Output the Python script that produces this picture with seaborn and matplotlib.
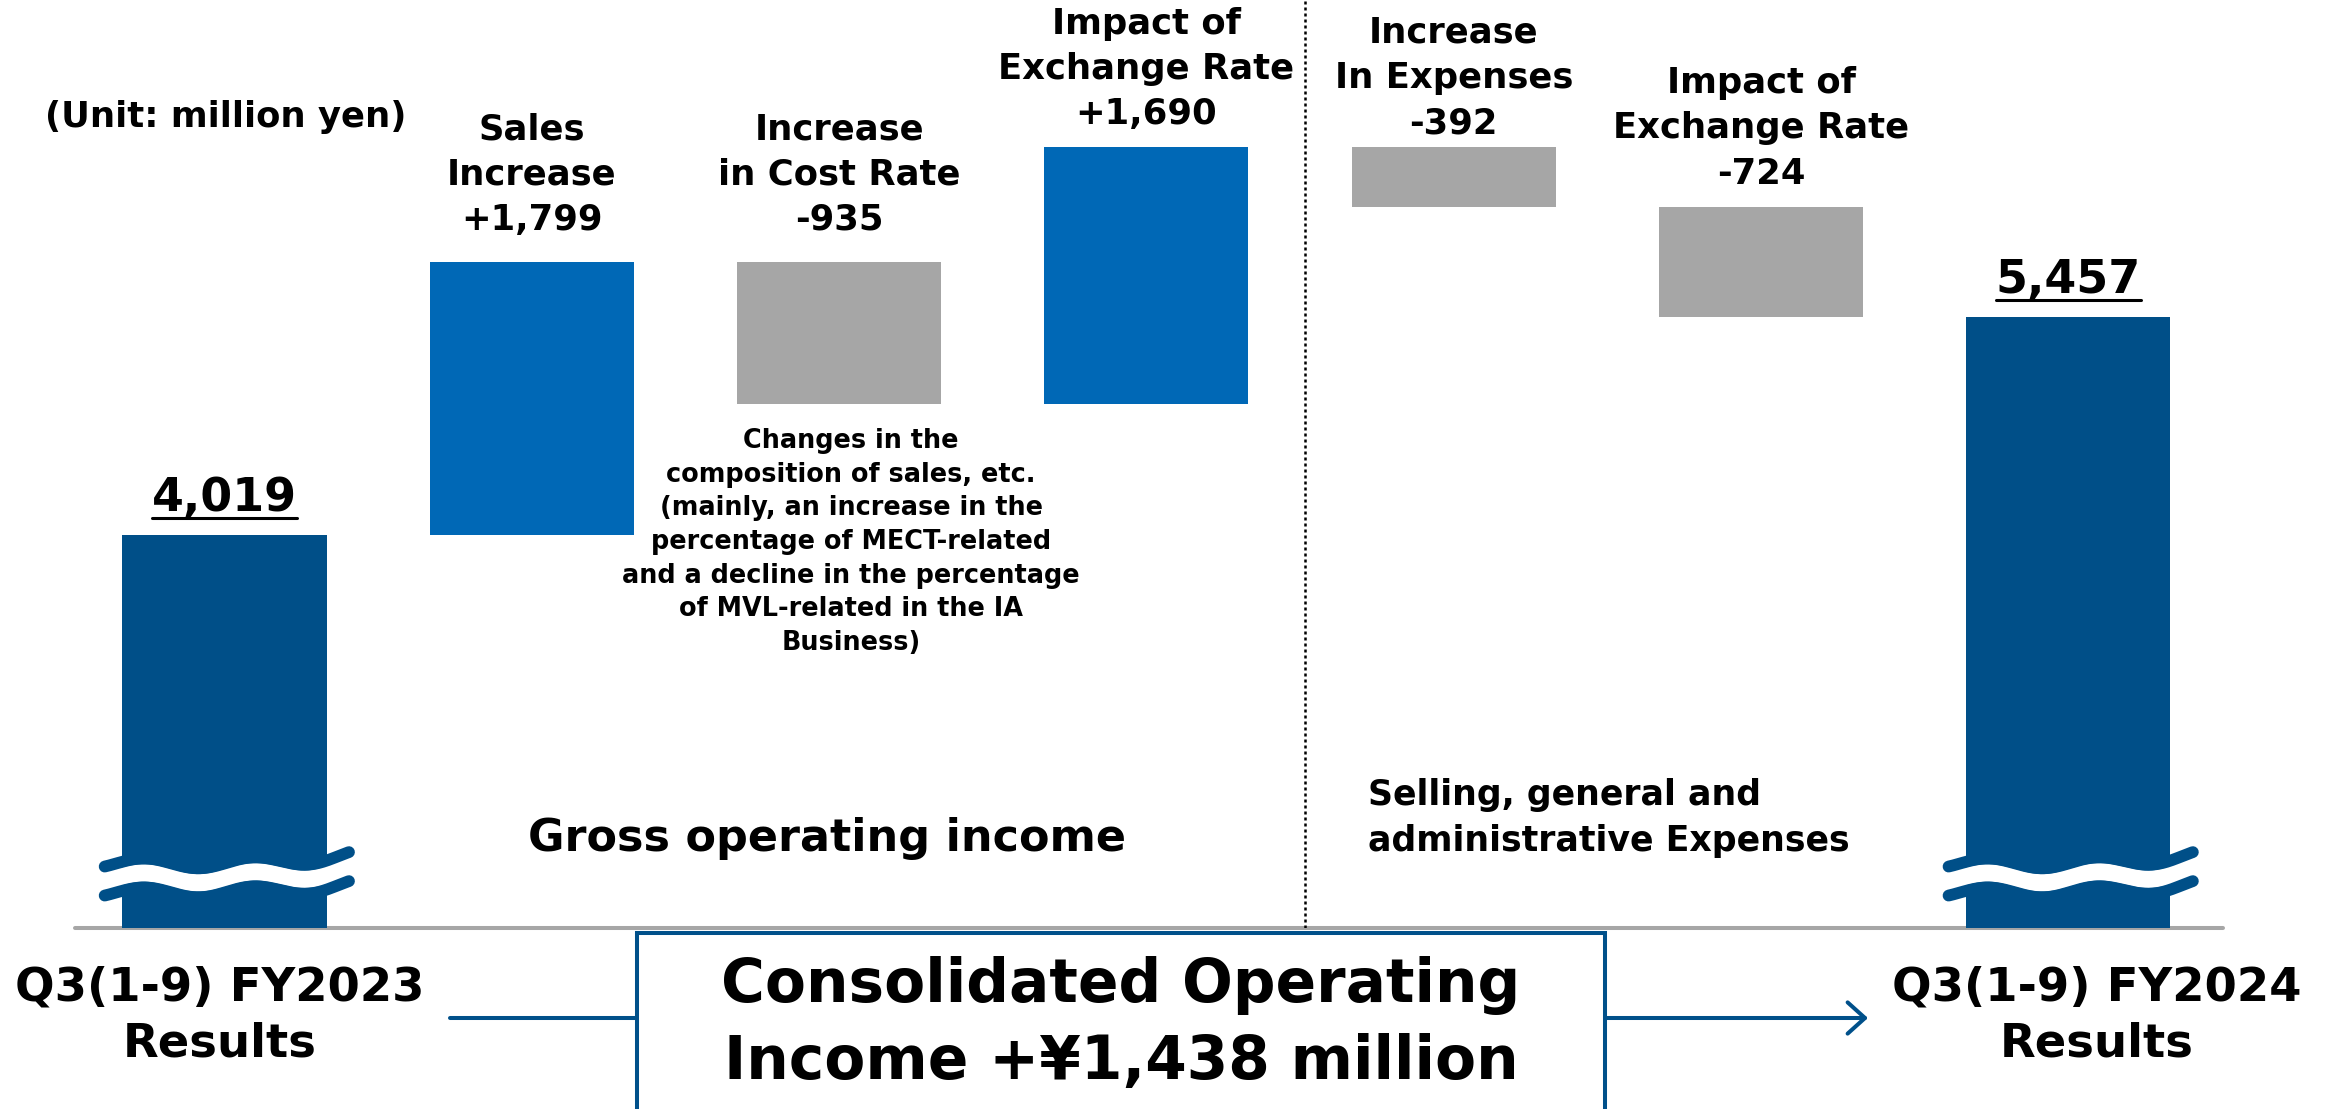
import numpy as np
import pandas as pd
import matplotlib.pyplot as plt
import seaborn as sns
from matplotlib.patches import Rectangle, FancyArrowPatch
from matplotlib.lines import Line2D

# donnees du waterfall (million yen)
step_keys = ['fy2023', 'sales', 'cost_rate', 'fx_gross', 'expenses', 'fx_sga', 'fy2024']
step_labels = ['', 'Sales\nIncrease', 'Increase\nin Cost Rate', 'Impact of\nExchange Rate',
               'Increase\nIn Expenses', 'Impact of\nExchange Rate', '']
bottom_labels = ['Q3(1-9) FY2023\nResults', 'Q3(1-9) FY2024\nResults']
start_value = 4019
changes = [1799, -935, 1690, -392, -724]
end_value = 5457
total_change = 1438
kinds = ['total', 'up', 'down', 'up', 'down', 'down', 'total']

colors = {'total': '#004F88', 'up': '#0068B6', 'down': '#A6A6A6'}
dark = '#00508A'
# ecart (px) entre haut de barre et label, comme sur la slide
label_pad = [0, 25, 25, 16, 7, 16, 0]

# calcul des bas / hauts de barres
tops, bottoms = [start_value], [0]
run = start_value
for c in changes:
    tops.append(max(run, run + c))
    bottoms.append(min(run, run + c))
    run += c
tops.append(end_value)
bottoms.append(0)
df = pd.DataFrame({'step': step_keys,
                   'height': np.array(tops) - np.array(bottoms),
                   'bottom': bottoms})

sns.set_style('white')
plt.rcParams['font.family'] = ['DejaVu Sans']
plt.rcParams['font.weight'] = 'bold'
plt.rcParams['text.color'] = 'black'

W, H = 2333, 1109
fig = plt.figure(figsize=(W / 100, H / 100), dpi=100)
ax = fig.add_axes([0, 1 - 928 / H, 1, 928 / H])

sns.barplot(data=df, x='step', y='height', bottom=list(df['bottom']), color=colors['up'],
            width=0.664, saturation=1, errorbar=None, linewidth=0, zorder=2, ax=ax)
for p, k in zip(ax.patches, kinds):
    p.set_facecolor(colors[k])

ax.set_xlim(-0.7306, 6.861)
ax.set_ylim(1431, 7541)
ax.axis('off')
upx = (7541 - 1431) / 928  # unites par pixel

# ligne de base + separation pointillee
ax.plot([-0.4865, 6.504], [1431, 1431], color='#A6A6A6', lw=2.9, clip_on=False, zorder=1)
ax.plot([3.516, 3.516], [1431, 7541], color='black', lw=1.8, ls=(0, (1.2, 1.2)), zorder=1)

# labels des variations
for i in range(1, 6):
    ax.annotate(f"{step_labels[i]}\n{changes[i - 1]:+,}", xy=(i, tops[i]), xytext=(0, label_pad[i]),
                textcoords='offset pixels', ha='center', va='bottom', fontsize=25.5,
                fontweight='bold', linespacing=1.41)

# totaux soulignes
tot_txt = []
for i, v in [(0, start_value), (6, end_value)]:
    t = ax.annotate(f"{v:,}", xy=(i, v), xytext=(0, 24), textcoords='offset pixels',
                    ha='center', va='baseline', fontsize=33, fontweight='bold')
    tot_txt.append((t, v))

# symbole de coupure (vagues)
t = np.linspace(0, 1, 200)
wave = 5 * np.sin(2 * np.pi * (t - 0.0475) / 0.45) + 8 * t ** 4 - 1
brk = 1767
for i in (0, 6):
    xs = i - 0.39 + 0.795 * t
    ax.plot(xs, brk + wave * upx, color='white', lw=12.5, solid_capstyle='butt', zorder=3)
    for side in (1, -1):
        ax.plot(xs, brk + (side * 14.5 + wave) * upx, color=colors['total'], lw=8.5,
                solid_capstyle='round', zorder=4)

# textes
fig.text(226 / W, 1 - 117 / H, '(Unit: million yen)', ha='center', va='center', fontsize=25.5)
fig.text(827 / W, 1 - 838 / H, 'Gross operating income', ha='center', va='center', fontsize=32)
fig.text(1368 / W, 1 - 818 / H, 'Selling, general and\nadministrative Expenses',
         ha='left', va='center', fontsize=25, linespacing=1.41)
fig.text(851 / W, 1 - 542 / H,
         'Changes in the\ncomposition of sales, etc.\n(mainly, an increase in the\n'
         'percentage of MECT-related\nand a decline in the percentage\n'
         'of MVL-related in the IA\nBusiness)',
         ha='center', va='center', fontsize=18.4, linespacing=1.38)
fig.text(220 / W, 1 - 1016 / H, bottom_labels[0], ha='center', va='center', fontsize=33.5,
         linespacing=1.3)
fig.text(2097 / W, 1 - 1016 / H, bottom_labels[1], ha='center', va='center', fontsize=33.5,
         linespacing=1.3)
fig.text(1121 / W, 1 - 1024 / H, f'Consolidated Operating\nIncome +¥{total_change:,} million',
         ha='center', va='center', fontsize=43, linespacing=1.39)

# cadre + fleches
fig.add_artist(Rectangle((637 / W, -0.05), (1605 - 637) / W, 1 - 933 / H + 0.05,
                         transform=fig.transFigure, fill=False, ec=dark, lw=2.9))
yc = 1 - 1018 / H
fig.add_artist(Line2D([450 / W, 637 / W], [yc, yc], transform=fig.transFigure, color=dark, lw=2.9))
fig.add_artist(FancyArrowPatch((1605 / W, yc), (1868 / W, yc), transform=fig.transFigure,
                               arrowstyle='->,head_length=0.5,head_width=0.45', mutation_scale=25,
                               lw=2.9, color=dark, shrinkA=0, shrinkB=0))

# soulignement des totaux
fig.canvas.draw()
r = fig.canvas.get_renderer()
for txt, v in tot_txt:
    bb = txt.get_window_extent(r)
    x0 = ax.transData.inverted().transform((bb.x0, 0))[0]
    x1 = ax.transData.inverted().transform((bb.x1, 0))[0]
    ax.plot([x0, x1], [v + 17 * upx] * 2, color='black', lw=2.2, zorder=5)

fig.savefig('out.png', dpi=100)
